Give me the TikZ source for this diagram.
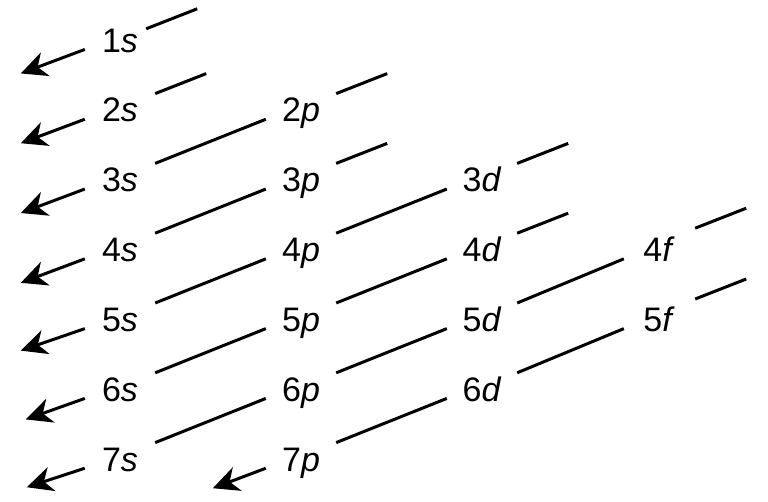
\documentclass[tikz,border=0pt]{standalone}
\usepackage{fontspec}
\setmainfont{Liberation Sans}
\usetikzlibrary{arrows.meta}

\begin{document}
\begin{tikzpicture}[x=1pt, y=-1pt,
    orb/.style={font=\fontsize{34pt}{36pt}\selectfont, inner sep=0pt,
        minimum width=70pt, text height=28.2pt, text depth=3.8pt},
    seg/.style={line width=3pt},
    arr/.style={seg, -{Stealth[length=26pt, width=25pt, inset=8pt]}}]
    \useasboundingbox (0, 0) rectangle (768, 502);
    \foreach \n in {1,...,7}
        \node[orb] (s\n) at (120, {40 + 69.8*(\n-1)}) {\n\textit{s}};
    \foreach \n in {2,...,7}
        \node[orb] (p\n) at (301, {40 + 69.8*(\n-1)}) {\n\textit{p}};
    \foreach \n in {3,...,6}
        \node[orb] (d\n) at (482, {40 + 69.8*(\n-1)}) {\n\textit{d}};
    \foreach \n in {4,5}
        \node[orb] (f\n) at (659, {40 + 69.8*(\n-1)}) {\n\textit{f}};
    % free ends of the diagonals
    \foreach \a/\dx/\dy in {s1/-9/-5, s2/0/0, p2/0/0, p3/0/0, d3/0/0, d4/0/0,
                            f4/1/5, f5/1/4} {
        \coordinate (\a-low) at ([xshift=\dx pt, yshift=\dy pt]\a.north east);
        \path (\a-low) ++(51, -20) coordinate (\a-top);
        \draw[seg] (\a-low) -- (\a-top);
    }
    \foreach \a/\b in {p2/s3, p3/s4, d3/p4, p4/s5, d4/p5, p5/s6,
                       f4/d5, d5/p6, p6/s7, f5/d6, d6/p7}
        \draw[seg] (\b.north east) -- (\a.195);
    \foreach \a/\tx/\ty in {s1/-64/24, s2/-64/24, s3/-64/24, s4/-64/24,
                            s5/-64/22, s6/-59/21, s7/-58/19, p7/-53/20} {
        \path (\a.195) ++(\tx, \ty) coordinate (\a-tip);
        \draw[arr] (\a.195) -- (\a-tip);
    }
\end{tikzpicture}
\end{document}
